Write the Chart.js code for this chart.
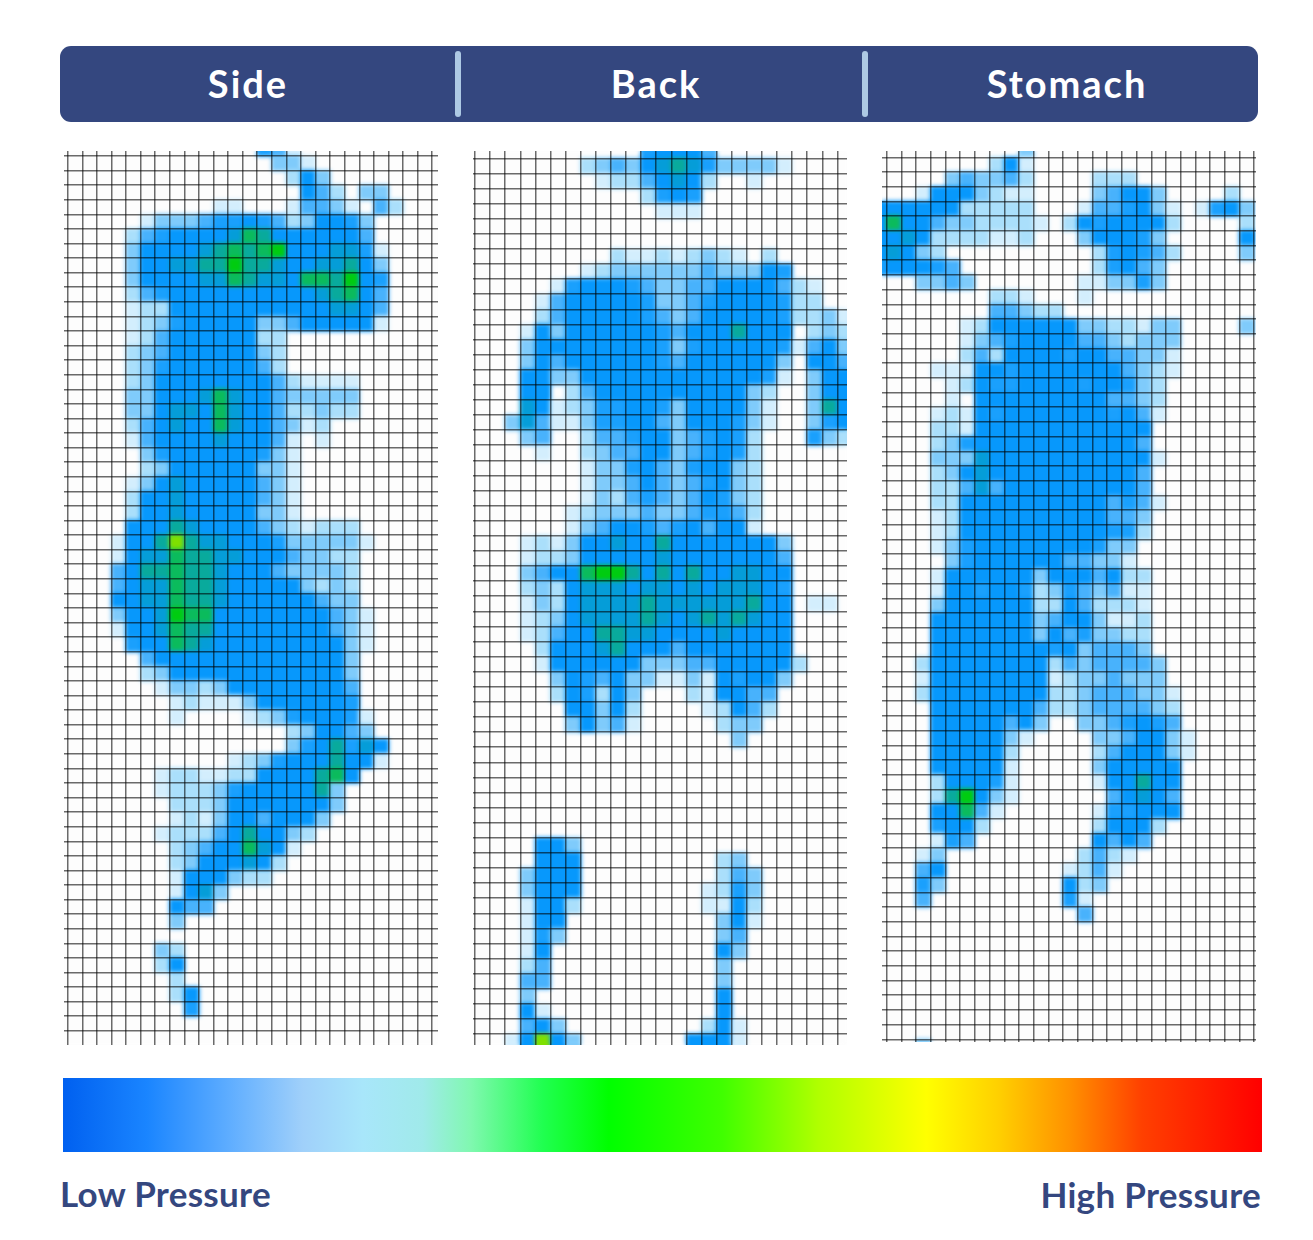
<!DOCTYPE html>
<html><head><meta charset="utf-8">
<script src="https://cdn.jsdelivr.net/npm/chart.js@4"></script>
<style>
html,body{margin:0;padding:0;background:#fff;width:1313px;height:1240px;overflow:hidden}
#page{position:relative;width:1313px;height:1240px;font-family:Lato,sans-serif}
#bar{position:absolute;left:60px;top:46px;width:1198px;height:76px;background:#34477f;border-radius:11px}
.h{position:absolute;top:45px;height:76px;line-height:76px;color:#fff;font-size:38px;font-weight:700;letter-spacing:2px;transform:translateX(-50%);white-space:nowrap}
.d{position:absolute;top:51px;width:6px;height:66px;background:#adc9e4;border-radius:3px}
.p{position:absolute}
.p canvas{display:block}
#scale{position:absolute;left:63px;top:1078px;width:1199px;height:74px}
.l{position:absolute;color:#34477f;font-size:35px;font-weight:700;letter-spacing:.3px;line-height:40px;white-space:nowrap}
</style></head><body>
<div id="page">
<div id="bar"></div><div class="d" style="left:455px"></div><div class="d" style="left:862px"></div>
<div class="h" style="left:248px">Side</div><div class="h" style="left:656px">Back</div><div class="h" style="left:1067px">Stomach</div>
<div class="p" style="left:64px;top:151px;width:374px;height:894px"><canvas id="side"></canvas></div>
<div class="p" style="left:473px;top:151px;width:374px;height:894px"><canvas id="back"></canvas></div>
<div class="p" style="left:882px;top:151px;width:374px;height:891px"><canvas id="stomach"></canvas></div>
<div id="scale"></div>
<div class="l" style="left:60px;top:1173px">Low Pressure</div>
<div class="l" style="right:52px;top:1174px">High Pressure</div>
</div>
<script>
// Pressure levels read per sensor cell: '.'=none, 1..9, A=10, B=11. Spaces only group columns by five.
const sideRows=[
"..... ..... ...54 1","..... ..... ....3 31","..... ..... ..... 263","..... ..... ..... .642. 33",
"..... ..... 11... 14431 .42","..... 13334 55654 23665 3","....2 45666 67986 66666 4",
"....3 66667 8989A 66677 51","....3 66778 8A887 66778 63","....3 66667 79877 6998A 65",
"....2 45666 66666 66789 64","....1 22666 66666 66677 64","....1 23566 66633 46666 61",
"....1 24666 66622","....2 34666 66632","....2 35666 66642","....2 36666 66664 21111",
"....3 36667 97664 33333","....3 36776 97664 22322","....2 46766 97664 312","....1 46666 76664 1.1",
"..... 35666 66653 1","..... 23666 66633 1","....1 36766 66643 1","....2 66766 66643 1","....2 66766 66633 1",
"....6 66876 66643 21222","...16 68B87 76665 33333 1","...16 77988 77666 43322","...46 88988 76664 33332",
"...46 77988 76666 63232","...66 77988 76666 66433","...36 67A99 66666 66643 1","...16 67988 66666 66643 1",
"....5 66987 66666 66663 1","..... 46666 66666 66663","..... 23666 66666 66663","..... .1332 36666 66664",
"..... ..121 11366 66665","..... ..1.. ..123 56665 1","..... ..... ..... 23664 3","..... ..... ..... 35685 76",
"..... ..... .1235 66686 61","..... .1221 12266 66896","..... .1222 35666 6683","..... ..222 36666 6663",
"..... ..121 36646 663","..... .1222 46866 32","..... ..234 66976 1","..... ..236 66762","..... ..166 6322",
"..... ..167 3","..... ..644","..... ..3","","..... .32","..... .26","..... ..2","..... ..26","..... ...5","",""
];
const backRows=[
"..... ..... .5666 4","..... ..234 36787 53333 1","..... ...12 24676 2..1","..... ..... .2565","..... ..... ..111",
"","","..... ....2 11212 321.2","..... ..123 33333 43336 5","..... 15666 54334 46666 421","....1 46666 65334 56666 522",
"....2 46666 65434 66666 52231","...16 36666 66546 66866 6.232","...36 66666 66535 66666 51463","...36 46666 66546 66666 3.664",
"...66 33666 66666 66665 1.366","...66 .2466 66666 66632 ..366","...76 12355 66536 66631 ..386","..374 11355 66436 66531 ..356",
"...34 ..244 56634 5652. ..532","....1 ..234 46634 5652","..... ..133 56435 6632","..... ..133 46434 5632","..... ..132 45434 6532",
"..... .1233 34334 5542","..... .1346 65456 4661","...12 13667 66866 66666 3","...12 23666 66766 66666 4","...34 669AA 86868 66776 6",
"...23 26777 67767 67776 5","...13 26777 78777 77786 6.11","...12 36777 78767 87876 6","...12 46688 77666 67666 6",
"....2 66678 66646 66666 6","....1 66666 63334 46666 62","..... 36546 33113 16566 3","..... 26526 3...2 16644",
"..... .6636 2.... 12642","..... .3634 1.... .233","..... ..... ..... ..3","","","","","","",
"....6 63","....6 66... ..... .23","...36 66... ..... .243","...36 66... ..... 1253","...16 62... ..... 1162",
"...16 6.... ..... .361","...15 3.... ..... .34","...16 ..... ..... .63","...24 ..... ..... .3","...44 ..... ..... .3",
"...3. ..... ..... .6","...61 ..... ..... .6","...46 3.... ..... 261","..16B 63... ....6 661"
];
const stomachRows=[
"..... ..... 3","..... ...26 1","..... 34334 2.... 222","...16 66321 1.... 34663 ....2","66666 62222 2...1 44563 1.156 3",
"69664 33222 21.26 56666 2.... 2","66762 22211 2...3 66653 ..... 6","67632 ..... ..... 25654 2.... 3","56665 4.... ..... 25643",
"...33 43... ....1 13353","..... ...22 1...1","..... ...44 322","..... .1266 66663 32213 3.... 3","..... .1345 66664 43233 3",
"..... .2426 66656 64433 1","....1 11665 66666 66432 1","..... 12655 66665 66532","..... 1.666 66666 64432","....1 21656 66666 65641",
"....2 21666 66666 6666","....2 35666 66666 6664","....3 33766 66666 66661","....2 36766 66666 6664","....2 24746 66666 6664",
"....2 26666 66666 64541","....1 26666 66666 6443","....1 26666 66666 6552","....1 35666 66666 533","..... 35666 66644 331",
"....1 66666 63666 4622","....1 66566 52354 3411","....3 66666 62264 2221","....6 66666 63466 3112","....6 66666 63645 3322",
"....6 66666 66563 4443","...26 66666 66243 44443","...16 66666 66123 34333","...26 66666 66223 44433 1","....6 66666 64223 44443 2",
"....6 66664 63..3 34565 4","....6 66663 1.... 33466 31","....6 66662 ..... 24666 31","....6 66661 ..... 36666 6",
"....2 66651 ..... 16686 6","....2 8A631 ..... .4676 4","....6 6941. ..... 15566 6","....5 662.. ..... 26662","....1 54... ..... 6464",
"...13 ..... ....2 421","...46 ..... ...12 41","...53 ..... ...62 3","...4. ..... ...51","..... ..... ....4","","","","","","","","","...3"
];
const levelColors=[null,"#d3eefd","#aadffb","#7fcbfb","#48b2fc","#1aa0fd","#0798fc","#059dd8","#09aa9c","#0bbb5c","#00cc10","#7fe000"];
const scaleStops=[[0,"#0060f0"],[.07,"#1a85ff"],[.14,"#60aeff"],[.2,"#a0d0fa"],[.25,"#a8e6fa"],[.3,"#a0eaea"],[.34,"#80f8b0"],[.4,"#20ff50"],[.455,"#00ff00"],[.55,"#40ff00"],[.63,"#b0ff00"],[.72,"#ffff00"],[.78,"#ffd000"],[.84,"#ff9000"],[.9,"#ff4000"],[1,"#ff0000"]];

document.getElementById('scale').style.background='linear-gradient(to right,'+scaleStops.map(s=>s[1]+' '+(s[0]*100)+'%').join(',')+')';

const softPlugin={id:'soft',
  beforeDraw(c){const x=c.ctx;x.save();x.fillStyle='#fdfdfd';x.fillRect(0,0,c.width,c.height);x.restore();},
  afterDatasetsDraw(c){const x=c.ctx;x.save();x.setTransform(1,0,0,1,0,0);x.filter='blur(2px)';x.drawImage(c.canvas,0,0);x.restore();}
};
function cells(rows,colShift){
  const pts=[];
  rows.forEach((r,j)=>{[...r.replace(/ /g,'')].forEach((ch,k)=>{
    if(ch==='.')return;
    pts.push({x:k+colShift+.5,y:j-.5,v:parseInt(ch,12)});
  });});
  return pts;
}
function make(id,rows,g){
  const el=document.getElementById(id),W=el.parentNode.clientWidth,H=el.parentNode.clientHeight;
  el.width=W;el.height=H;el.style.width=W+'px';el.style.height=H+'px';
  const intTicks=s=>{const t=[];for(let i=Math.ceil(s.min);i<=s.max;i++)t.push({value:i});s.ticks=t;};
  const grid={color:'rgba(0,0,0,.58)',lineWidth:1.5,z:1,drawTicks:false};
  const R=(g.d/2+.7)*Math.SQRT2;
  new Chart(el,{
    type:'scatter',
    data:{datasets:[{data:cells(rows,g.shift),pointStyle:'rect',pointBorderWidth:0,pointRadius:R,pointHoverRadius:R,
      backgroundColor:c=>levelColors[c.raw?c.raw.v:6]}]},
    options:{responsive:false,animation:false,events:[],devicePixelRatio:1,
      layout:{padding:0,autoPadding:false},plugins:{legend:{display:false},tooltip:{enabled:false}},
      scales:{
        x:{type:'linear',min:-g.x0/g.d,max:(W-g.x0)/g.d,afterBuildTicks:intTicks,ticks:{display:false},border:{display:false},grid},
        y:{type:'linear',reverse:true,min:-g.y0/g.d,max:(H-g.y0)/g.d,afterBuildTicks:intTicks,ticks:{display:false},border:{display:false},grid}
      }},
    plugins:[softPlugin]
  });
}
make('side',sideRows,{x0:3.7,y0:5,d:14.58,shift:0});
make('back',backRows,{x0:2,y0:7.3,d:15.1,shift:0});
make('stomach',stomachRows,{x0:4.7,y0:6.3,d:14.7,shift:-1});
</script>
</body></html>
